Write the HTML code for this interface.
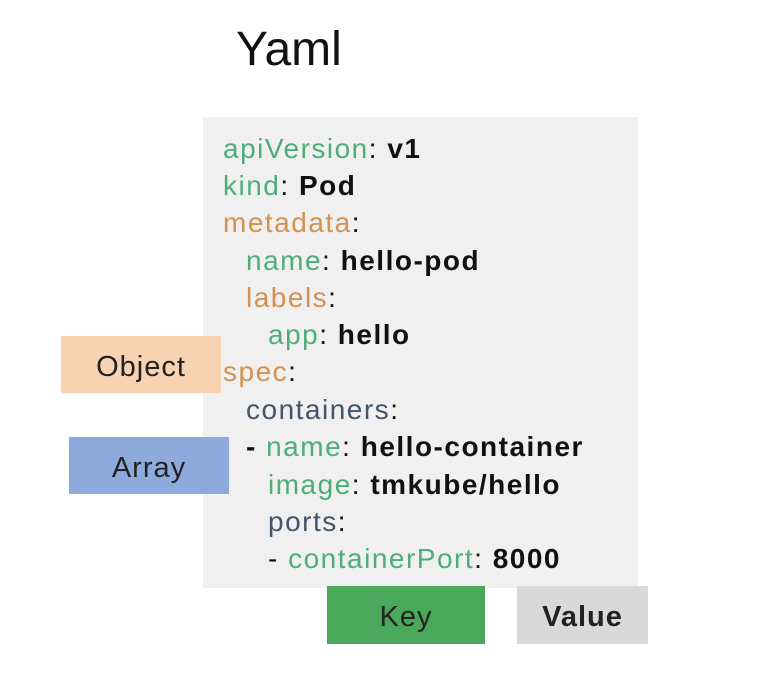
<!DOCTYPE html>
<html><head><meta charset="utf-8"><style>
body{margin:0;width:762px;height:678px;background:#fff;position:relative;overflow:hidden;font-family:"Liberation Sans","DejaVu Sans",sans-serif}
.a{position:absolute}
.box{position:absolute;display:flex;align-items:center;justify-content:center;font-size:29px;letter-spacing:1px;color:#222;box-sizing:border-box;padding-top:5px}
.l{position:absolute;font-size:28px;letter-spacing:1.5px;line-height:30px;white-space:pre;color:#111}
.g{color:#4fae78}.o{color:#d4914f}.b{color:#44546a}.v{font-weight:bold;color:#111}
</style></head><body>
<div class="a" style="left:236px;top:22px;font-size:48px;color:#111">Yaml</div>
<div class="a" style="left:203px;top:117px;width:435px;height:471px;background:#f0f0f0"></div>
<div class="box" style="left:61px;top:336px;width:160px;height:57px;background:#f7d3b2">Object</div>
<div class="box" style="left:69px;top:437px;width:160px;height:57px;background:#8eaadc">Array</div>
<div class="box" style="left:327px;top:586px;width:158px;height:58px;background:#4aa85a">Key</div>
<div class="box" style="left:517px;top:586px;width:131px;height:58px;background:#d9d9d9;font-weight:bold">Value</div>
<div class="l" style="left:223px;top:134px"><span class="g">apiVersion</span>: <span class="v">v1</span></div>
<div class="l" style="left:223px;top:171px"><span class="g">kind</span>: <span class="v">Pod</span></div>
<div class="l" style="left:223px;top:208px"><span class="o">metadata</span>:</div>
<div class="l" style="left:246px;top:246px"><span class="g">name</span>: <span class="v">hello-pod</span></div>
<div class="l" style="left:246px;top:283px"><span class="o">labels</span>:</div>
<div class="l" style="left:268px;top:320px"><span class="g">app</span>: <span class="v">hello</span></div>
<div class="l" style="left:223px;top:357px"><span class="o">spec</span>:</div>
<div class="l" style="left:246px;top:395px"><span class="b">containers</span>:</div>
<div class="l" style="left:246px;top:432px"><span class="v">-</span> <span class="g">name</span>: <span class="v">hello-container</span></div>
<div class="l" style="left:268px;top:470px"><span class="g">image</span>: <span class="v">tmkube/hello</span></div>
<div class="l" style="left:268px;top:507px"><span class="b">ports</span>:</div>
<div class="l" style="left:268px;top:544px">- <span class="g">containerPort</span>: <span class="v">8000</span></div>
</body></html>
